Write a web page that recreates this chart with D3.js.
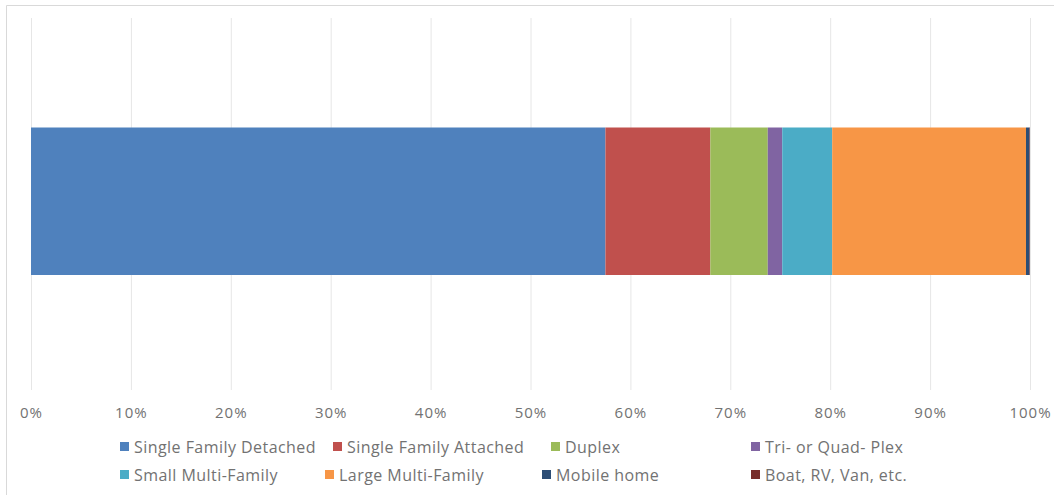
<!DOCTYPE html>
<html>
<head>
<meta charset="utf-8">
<script src="https://cdn.jsdelivr.net/npm/d3@7"></script>
<style>
  html, body { margin: 0; padding: 0; background: #fff; }
  svg { display: block; font-family: "Open Sans", sans-serif; }
</style>
</head>
<body>
<svg id="chart" width="1054" height="495"></svg>
<script>
// housing type shares, percent of total
const categories = [
  "Single Family Detached", "Single Family Attached", "Duplex", "Tri- or Quad- Plex",
  "Small Multi-Family", "Large Multi-Family", "Mobile home", "Boat, RV, Van, etc."
];
const shares = [57.5, 10.5, 5.75, 1.45, 5.0, 19.4, 0.35, 0.05];
const colors = ["#4f81bd", "#c0504d", "#9bbb59", "#8064a2", "#4bacc6", "#f79646", "#2c4d75", "#772c2a"];
const tickValues = [0, 10, 20, 30, 40, 50, 60, 70, 80, 90, 100];

const svg = d3.select("#chart");

// outer chart border (right side is cut off in the picture)
svg.append("path")
  .attr("d", "M6.5,495 V5.5 H1054")
  .attr("fill", "none")
  .attr("stroke", "#d9d9d9");

const x = d3.scaleLinear().domain([0, 100]).range([31, 1030]);
const plotTop = 18, plotBottom = 390;
const barTop = 127.5, barBottom = 275;

// gridlines + tick labels
const axis = d3.axisBottom(x)
  .tickValues(tickValues)
  .tickSize(-(plotBottom - plotTop))
  .tickPadding(12)
  .tickFormat(d => d + "%");

const ax = svg.append("g")
  .attr("transform", `translate(0,${plotBottom})`)
  .call(axis);
ax.select(".domain").remove();
ax.selectAll(".tick line").attr("stroke", "#e6e6e6");
ax.selectAll(".tick text")
  .attr("fill", "#727272")
  .attr("font-size", "15px")
  .attr("letter-spacing", "1px")
  .attr("font-family", "'Open Sans', sans-serif")
  .attr("dy", "0.35em")
  .attr("y", 23);

// stacked segments
let acc = 0;
const segs = shares.map((v, i) => {
  const s = { start: acc, end: acc + v, color: colors[i], name: categories[i] };
  acc += v;
  return s;
});

svg.append("g").selectAll("rect")
  .data(segs)
  .join("rect")
  .attr("x", d => x(d.start))
  .attr("width", d => Math.max(0, x(d.end) - x(d.start)))
  .attr("y", barTop)
  .attr("height", barBottom - barTop)
  .attr("fill", d => d.color);

// legend, two rows of four
const legendCols = [[120, 333, 551, 751], [120, 325, 542, 751]];
const legendRows = [442, 470];

const leg = svg.append("g").selectAll("g")
  .data(categories)
  .join("g")
  .attr("transform", (d, i) => {
    const r = Math.floor(i / 4), c = i % 4;
    return `translate(${legendCols[r][c]},${legendRows[r]})`;
  });

leg.append("rect")
  .attr("width", 9)
  .attr("height", 9)
  .attr("fill", (d, i) => colors[i]);

leg.append("text")
  .attr("x", 14)
  .attr("y", 11)
  .attr("font-size", "16px")
  .attr("letter-spacing", "0.45px")
  .attr("fill", "#727272")
  .text(d => d);
</script>
</body>
</html>
